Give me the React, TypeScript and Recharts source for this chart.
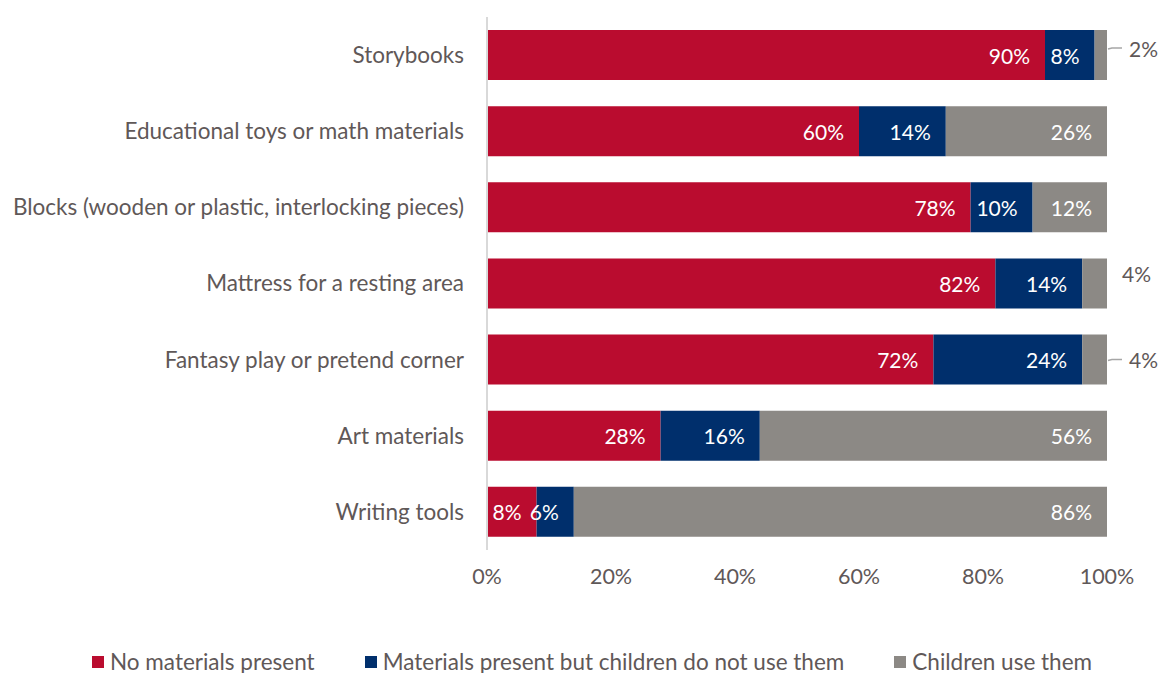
import { BarChart, Bar, XAxis, YAxis, LabelList, Legend } from 'recharts'

const categories = [
  'Storybooks',
  'Educational toys or math materials',
  'Blocks (wooden or plastic, interlocking pieces)',
  'Mattress for a resting area',
  'Fantasy play or pretend corner',
  'Art materials',
  'Writing tools',
]
const noMaterials = [90, 60, 78, 82, 72, 28, 8]
const presentNotUsed = [8, 14, 10, 14, 24, 16, 6]
const childrenUse = [2, 26, 12, 4, 4, 56, 86]
const xTicks = [0, 20, 40, 60, 80, 100]

const seriesNames = ['No materials present', 'Materials present but children do not use them', 'Children use them']
const colors = ['#BA0C2F', '#002F6C', '#8C8985']

const FONT = 'Lato, "Open Sans", sans-serif'
const TEXT = '#5f5858'

const data = categories.map((name, i) => ({
  name,
  none: noMaterials[i],
  notUsed: presentNotUsed[i],
  used: childrenUse[i],
}))

// white label at the right end of each segment
const InsideLabel = (props: any) => {
  const { x, y, width, height, value } = props
  if (value < 5) return null
  return (
    <text
      x={x + width - 15}
      y={y + height / 2}
      fill="#fff"
      fontSize={21}
      fontFamily={FONT}
      textAnchor="end"
      dominantBaseline="central"
    >
      {value}%
    </text>
  )
}

// small grey segments get their label outside the bar
const UsedLabel = (props: any) => {
  const { x, y, width, height, value, index } = props
  if (value >= 5) return <InsideLabel {...props} />
  const ex = x + width
  const cy = y + height / 2
  if (index === 3) {
    return (
      <text x={ex + 15} y={cy - 10} fill={TEXT} fontSize={21} fontFamily={FONT} dominantBaseline="central">
        {value}%
      </text>
    )
  }
  const rise = index === 0 ? 7 : 0
  return (
    <g>
      <polyline
        points={`${ex + 1},${cy + 1 - rise} ${ex + 5},${cy - rise} ${ex + 15},${cy - rise}`}
        fill="none"
        stroke="#a6a6a6"
        strokeWidth={1.5}
      />
      <text x={ex + 22} y={cy - rise} fill={TEXT} fontSize={21} fontFamily={FONT} dominantBaseline="central">
        {value}%
      </text>
    </g>
  )
}

const LegendContent = () => (
  <div
    style={{
      display: 'flex',
      paddingLeft: 92,
      paddingTop: 38,
      fontFamily: FONT,
      fontSize: 22.5,
      color: TEXT,
      whiteSpace: 'nowrap',
      width: 1100,
    }}
  >
    {seriesNames.map((n, i) => (
      <div key={n} style={{ display: 'flex', alignItems: 'center', marginRight: 50, flexShrink: 0 }}>
        <span style={{ width: 12, height: 12, background: colors[i], marginRight: 6, flexShrink: 0 }} />
        <span>{n}</span>
      </div>
    ))}
  </div>
)

export default function App() {
  return (
    <div style={{ position: 'absolute', left: 0, top: 0, background: '#fff' }}>
      <BarChart
        width={1159}
        height={673}
        data={data}
        layout="vertical"
        margin={{ top: 17, right: 52, left: 0, bottom: 0 }}
        barSize={50}
      >
        <XAxis
          type="number"
          domain={[0, 100]}
          ticks={xTicks}
          tickFormatter={(v) => `${v}%`}
          axisLine={false}
          tickLine={false}
          tickSize={0}
          tickMargin={19}
          height={60}
          interval={0}
          tick={{ fontSize: 21.5, fill: TEXT, fontFamily: FONT }}
        />
        <YAxis
          type="category"
          dataKey="name"
          width={487}
          axisLine={{ stroke: '#d9d9d9', strokeWidth: 2 }}
          tickLine={false}
          tickSize={0}
          tickMargin={23}
          interval={0}
          tick={{ fontSize: 22.5, fill: TEXT, fontFamily: FONT }}
        />
        <Legend verticalAlign="bottom" content={<LegendContent />} wrapperStyle={{ height: 63, left: 0, width: 1159 }} />
        <Bar dataKey="none" stackId="a" fill={colors[0]} isAnimationActive={false}>
          <LabelList dataKey="none" content={<InsideLabel />} />
        </Bar>
        <Bar dataKey="notUsed" stackId="a" fill={colors[1]} isAnimationActive={false}>
          <LabelList dataKey="notUsed" content={<InsideLabel />} />
        </Bar>
        <Bar dataKey="used" stackId="a" fill={colors[2]} isAnimationActive={false}>
          <LabelList dataKey="used" content={<UsedLabel />} />
        </Bar>
      </BarChart>
    </div>
  )
}
